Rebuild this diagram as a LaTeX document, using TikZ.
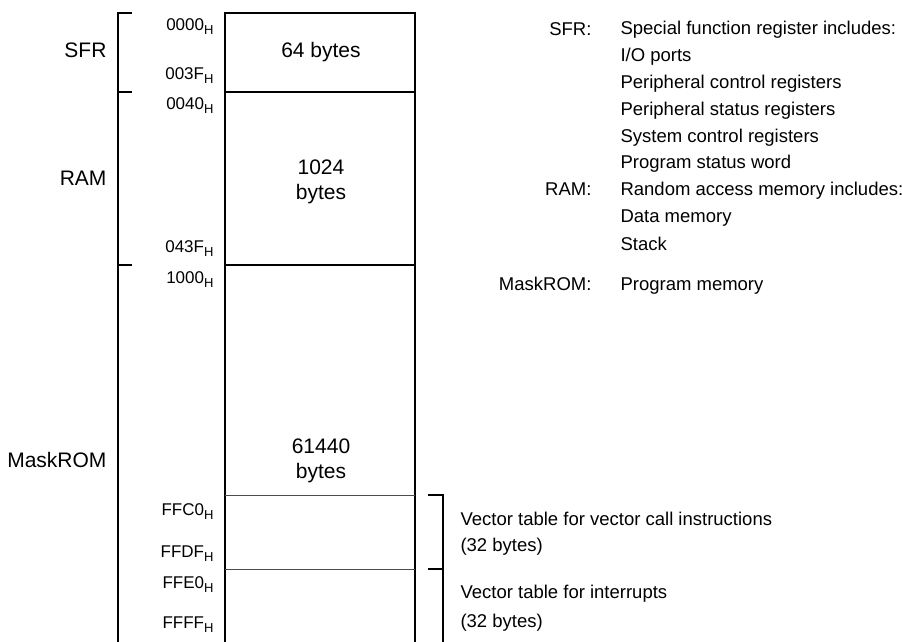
\documentclass[tikz,border=0pt]{standalone}
\usepackage{fontspec}
\setmainfont{Liberation Sans}
\usetikzlibrary{positioning}
\newcommand{\hexaddr}[1]{#1\raisebox{-4pt}{\fontsize{13}{13}\selectfont H}}
\begin{document}
\begin{tikzpicture}[x=1pt,y=-1pt,
    region/.style={anchor=base east,font=\fontsize{21}{24}\selectfont},
    size/.style={align=center,font=\fontsize{21}{25.5}\selectfont},
    addr/.style={anchor=base east,font=\fontsize{17}{20}\selectfont},
    notehead/.style={anchor=base east,font=\fontsize{18.5}{22}\selectfont},
    note/.style={anchor=base west,font=\fontsize{18.5}{22}\selectfont},
    thickline/.style={line width=2pt},
    thinline/.style={line width=0.8pt,black!70}]
    \useasboundingbox (0,0) rectangle (902,642);
    % Memory map
    \draw[thickline] (225,642) -- (225,13) -- (415,13) -- (415,642);
    \draw[thickline] (225,91.7) -- (415,91.7);
    \draw[thickline] (225,265) -- (415,265);
    \draw[thinline] (225,495) -- (415,495);
    \draw[thinline] (225,569) -- (415,569);
    % Left bracket
    \draw[thickline] (132,13) -- (118,13) -- (118,642);
    \draw[thickline] (118,91.7) -- (132,91.7);
    \draw[thickline] (118,265) -- (132,265);
    % Right bracket
    \draw[thickline] (428,495) -- (443,495) -- (443,642);
    \draw[thickline] (428,569) -- (443,569);
    % Areas
    \node[region] (sfr) at (110,58) {SFR};
    \node[region] (ram) at (110,185) {RAM};
    \node[region] (rom) at (110,467) {MaskROM};
    \node[size,anchor=base] (sfrsize) at (321,58) {64 bytes};
    \node[size] (ramsize) at (321,182) {1024\\bytes};
    \node[size] (romsize) at (321,461) {61440\\bytes};
    % Addresses
    \node[addr] (a0000) at (217,31) {\hexaddr{0000}};
    \node[addr] (a003f) at (217,80) {\hexaddr{003F}};
    \node[addr] (a0040) at (217,110) {\hexaddr{0040}};
    \node[addr] (a043f) at (217,252) {\hexaddr{043F}};
    \node[addr] (a1000) at (217,283) {\hexaddr{1000}};
    \node[addr] (affc0) at (217,515) {\hexaddr{FFC0}};
    \node[addr] (affdf) at (217,557) {\hexaddr{FFDF}};
    \node[addr] (affe0) at (217,588) {\hexaddr{FFE0}};
    \node[addr] (affff) at (217,628) {\hexaddr{FFFF}};
    % Legend
    \node[notehead] (hsfr) at (595,36) {SFR:};
    \node[note] (n1) at (617,35) {Special function register includes:};
    \node[note] (n2) at (617,62) {I/O ports};
    \node[note] (n3) at (617,88.5) {Peripheral control registers};
    \node[note] (n4) at (617,115) {Peripheral status registers};
    \node[note] (n5) at (617,142) {System control registers};
    \node[note] (n6) at (617,168.5) {Program status word};
    \node[notehead] (hram) at (595,195) {RAM:};
    \node[note] (n7) at (617,195) {Random access memory includes:};
    \node[note] (n8) at (617,222) {Data memory};
    \node[note] (n9) at (617,250) {Stack};
    \node[notehead] (hrom) at (595,290) {MaskROM:};
    \node[note] (n10) at (617,290) {Program memory};
    % Vector tables
    \node[note] (v1) at (457,525) {Vector table for vector call instructions};
    \node[note] (v1s) at (457,551) {(32 bytes)};
    \node[note] (v2) at (457,598) {Vector table for interrupts};
    \node[note] (v2s) at (457,627) {(32 bytes)};
\end{tikzpicture}
\end{document}
